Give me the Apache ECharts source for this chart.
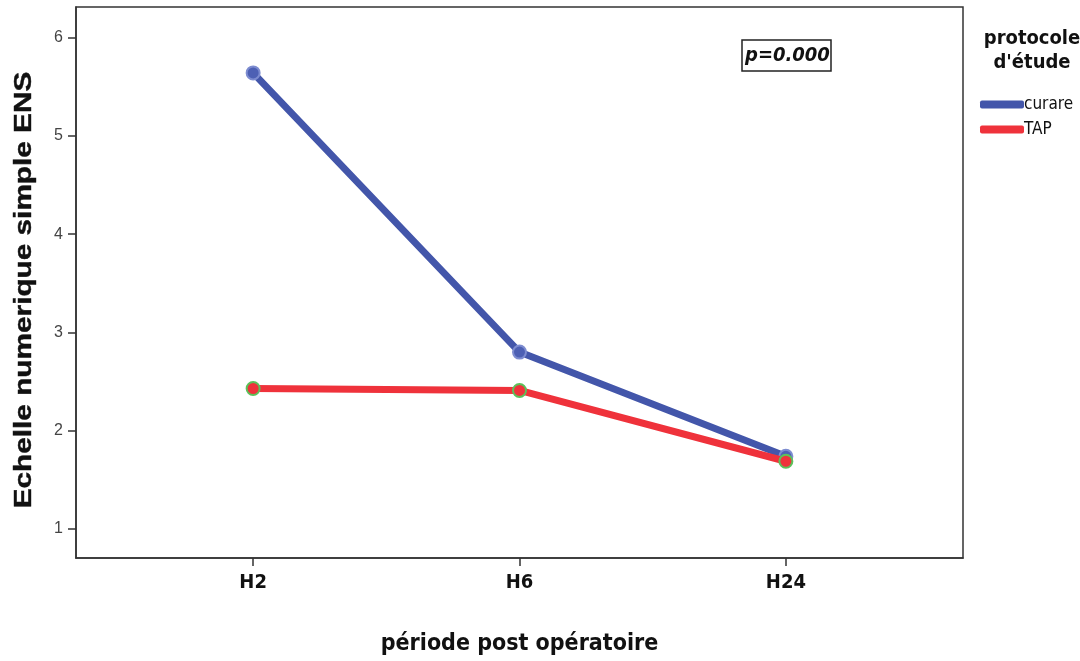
<!DOCTYPE html>
<html>
<head>
<meta charset="utf-8">
<script src="https://cdn.jsdelivr.net/npm/echarts@6/dist/echarts.min.js"></script>
<style>
  html, body { margin: 0; padding: 0; background: #fff; }
  #chart { width: 1080px; height: 661px; }
</style>
</head>
<body>
<div id="chart"></div>
<script>
// Post-operative pain score (ENS) by study protocol
const categories = ['H2', 'H6', 'H24'];
const curare = [5.64, 2.80, 1.74];
const tap = [2.43, 2.41, 1.69];
const yTicks = [1, 2, 3, 4, 5, 6];
const yAxisTitle = 'Echelle numerique simple ENS';

const BLUE = '#4356aa';
const RED = '#ef323b';
const NARROW = '"Liberation Sans Narrow", "DejaVu Sans Condensed", "DejaVu Sans", sans-serif';
const ARIAL = '"Liberation Sans", Arial, sans-serif';

const toPoints = (vals) => vals.map((v, i) => [i, v]);

const chart = echarts.init(document.getElementById('chart'));
chart.setOption({
  animation: false,
  backgroundColor: '#fff',
  grid: {
    left: 76, top: 7, right: 117, bottom: 101,
    show: true, borderColor: '#333', borderWidth: 1.5, backgroundColor: 'transparent'
  },
  title: [
    {
      text: 'protocole\nd\'étude',
      left: 1027, top: 22, textAlign: 'center',
      textStyle: { fontFamily: NARROW, fontWeight: 'bold', fontSize: 20, color: '#111', lineHeight: 24, align: 'center' }
    },
    {
      text: 'p=0.000',
      left: 742, top: 40,
      padding: [6, 1, 5, 3],
      borderColor: '#222', borderWidth: 1.5,
      textStyle: { fontFamily: NARROW, fontWeight: 'bold', fontStyle: 'italic', fontSize: 20, color: '#111' }
    }
  ],
  // wide bold axis title, stretched along its length
  graphic: [
    {
      type: 'text',
      x: 24, y: 290,
      rotation: Math.PI / 2,
      scaleX: 1.24,
      style: {
        text: yAxisTitle,
        fontFamily: ARIAL,
        fontSize: 24,
        fontWeight: 700,
        fill: '#111',
        stroke: '#111',
        lineWidth: 0.4,
        textAlign: 'center',
        textVerticalAlign: 'middle'
      }
    }
  ],
  legend: {
    orient: 'vertical',
    left: 975, top: 91,
    itemWidth: 44, itemHeight: 8, itemGap: 8,
    icon: 'roundRect',
    textStyle: { fontFamily: NARROW, fontSize: 17, color: '#111', padding: [0, 0, 0, -5] },
    data: [
      { name: 'curare', itemStyle: { color: BLUE, borderWidth: 0 } },
      { name: 'TAP', itemStyle: { color: RED, borderWidth: 0 } }
    ]
  },
  xAxis: {
    type: 'value',
    min: -0.665, max: 2.665,
    name: 'période post opératoire',
    nameLocation: 'middle', nameGap: 75,
    nameTextStyle: { fontFamily: NARROW, fontWeight: 'bold', fontSize: 23, color: '#111' },
    axisLine: { show: true, onZero: false, lineStyle: { color: '#333', width: 1.5 } },
    axisTick: { show: true, length: 8, customValues: [0, 1, 2], lineStyle: { color: '#333', width: 1.5 } },
    axisLabel: {
      customValues: [0, 1, 2],
      formatter: (v) => categories[Math.round(v)],
      fontFamily: NARROW, fontWeight: 'bold', fontSize: 20, color: '#111', margin: 15
    },
    splitLine: { show: false }
  },
  yAxis: {
    type: 'value',
    min: 0.706, max: 6.31,
    axisLine: { show: true, onZero: false, lineStyle: { color: '#333', width: 1.5 } },
    axisTick: { show: true, length: 8, customValues: yTicks, lineStyle: { color: '#333', width: 1.5 } },
    axisLabel: {
      customValues: yTicks,
      fontFamily: ARIAL, fontSize: 16, color: '#444', margin: 13
    },
    splitLine: { show: false }
  },
  series: [
    {
      name: 'curare', type: 'line',
      data: toPoints(curare),
      symbol: 'circle', symbolSize: 13,
      lineStyle: { color: BLUE, width: 7, cap: 'round', join: 'round' },
      itemStyle: { color: '#4d60b4', borderColor: '#7d8cd0', borderWidth: 2 },
      z: 2
    },
    {
      name: 'TAP', type: 'line',
      data: toPoints(tap),
      symbol: 'circle', symbolSize: 13,
      lineStyle: { color: RED, width: 7, cap: 'round', join: 'round' },
      itemStyle: { color: RED, borderColor: '#5cc05a', borderWidth: 2 },
      z: 3
    }
  ]
});
</script>
</body>
</html>
